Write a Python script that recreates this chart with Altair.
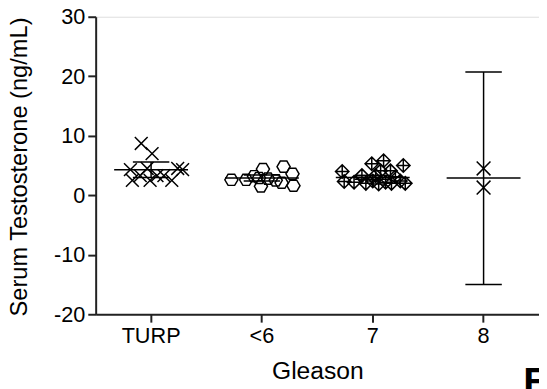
import altair as alt
import pandas as pd

FONT = "Liberation Sans"

groups = ["TURP", "<6", "7", "8"]

turp_off = [-21, -10, 1, -19, -11, -4, -1, 6, 13, 21, 27, 32]
turp_val = [4.3, 8.7, 7.0, 2.5, 3.3, 4.5, 2.5, 3.3, 3.3, 2.5, 4.5, 4.3]

lt6_off = [-31, -16, -8, -3, 1, -1, 6, 14, 20, 22, 31, 32]
lt6_val = [2.6, 2.6, 3.2, 2.9, 4.4, 1.5, 2.8, 2.5, 2.1, 4.8, 3.6, 1.6]

g7_off = [-31, -29, -19, -11, -7, -1, 0, 3, 6, 8, 11, 13, 18, 19, 23, 28, 31, 33]
g7_val = [4.0, 2.3, 2.2, 3.3, 2.0, 5.3, 2.4, 3.3, 1.9, 4.1, 5.8, 2.2, 4.1, 2.0, 3.1, 2.4, 5.0, 2.0]

g8_off = [0, 0]
g8_val = [4.5, 1.3]

means = [4.3, 2.9, 3.0, 2.9]
lows = [3.0, 2.4, 2.7, -15.0]
highs = [5.6, 3.4, 3.3, 20.7]

rows = []
for g, offs, vals in zip(groups, [turp_off, lt6_off, g7_off, g8_off],
                         [turp_val, lt6_val, g7_val, g8_val]):
    for o, v in zip(offs, vals):
        rows.append({"group": g, "offset": o, "value": v})
pts = pd.DataFrame(rows)
summ = pd.DataFrame({"group": groups, "mean": means, "lo": lows, "hi": highs})

X_PATH = "M-1,-1L1,1M-1,1L1,-1"
HEX_PATH = "M-1,0L-0.5,-0.85L0.5,-0.85L1,0L0.5,0.85L-0.5,0.85Z"
DIA_PATH = "M0,-1L1,0L0,1L-1,0ZM0,-1L0,1M-1,0L1,0"

x_enc = alt.X("group:N", sort=groups,
              scale=alt.Scale(domain=groups, paddingInner=0, paddingOuter=0),
              axis=alt.Axis(title="Gleason", labelAngle=0, tickSize=8, tickWidth=2,
                            domainWidth=2, domainColor="#222", tickColor="#222",
                            labelFontSize=22, labelColor="black", labelPadding=4,
                            titleFontSize=25, titleFontWeight="normal", titleColor="black",
                            titleX=225, titleY=65, titleBaseline="alphabetic",
                            labelFont=FONT, titleFont=FONT, grid=False))
y_scale = alt.Scale(domain=[-20, 30], nice=False, zero=False)
y_axis = alt.Axis(title="Serum Testosterone (ng/mL)", values=[-20, -10, 0, 10, 20, 30],
                  labelExpr="datum.value < 0 ? '-' + abs(datum.value) : '' + datum.value",
                  tickSize=8, tickWidth=2, domainWidth=2, domainColor="#222", tickColor="#222",
                  labelFontSize=22, labelColor="black", labelPadding=3,
                  titleFontSize=24, titleFontWeight="normal", titleColor="black",
                  titleX=-77, titleY=152, titleAngle=-90, titleAlign="center",
                  titleBaseline="middle", labelFont=FONT, titleFont=FONT, grid=False)

points = alt.Chart(pts).mark_point(filled=False, strokeWidth=1.5, color="black", opacity=1).encode(
    x=x_enc,
    xOffset=alt.XOffset("offset:Q", scale=alt.Scale(domain=[-56.25, 56.25])),
    y=alt.Y("value:Q", scale=y_scale, axis=y_axis),
    shape=alt.Shape("group:N", scale=alt.Scale(domain=groups, range=[X_PATH, HEX_PATH, DIA_PATH, X_PATH]), legend=None),
    size=alt.Size("group:N", scale=alt.Scale(domain=groups, range=[169, 196, 156, 169]), legend=None),
)

base = alt.Chart(summ).encode(x=alt.X("group:N", sort=groups))
vrule = base.mark_rule(color="black", strokeWidth=1.5).encode(y=alt.Y("lo:Q"), y2="hi:Q")
cap_lo = base.mark_tick(color="black", size=37, thickness=1.5, opacity=1).encode(y="lo:Q")
cap_hi = base.mark_tick(color="black", size=37, thickness=1.5, opacity=1).encode(y="hi:Q")
mean_line = base.mark_tick(color="black", size=75, thickness=1.5, opacity=1).encode(y="mean:Q")

corner = alt.Chart(pd.DataFrame({"t": ["E"]})).mark_text(
    font=FONT, fontSize=40, fontWeight="bold", align="left", baseline="alphabetic", color="black"
).encode(text="t:N", x=alt.value(434), y=alt.value(384))

chart = alt.layer(points, vrule, cap_lo, cap_hi, mean_line, corner).properties(
    width=450, height=302,
    autosize=alt.AutoSizeParams(type="none"),
    padding={"left": 89, "top": 6, "right": 0, "bottom": 73},
).configure_view(stroke=None).configure(background="white")

chart.save("out.html", embed_options={"renderer": "svg", "actions": False})
